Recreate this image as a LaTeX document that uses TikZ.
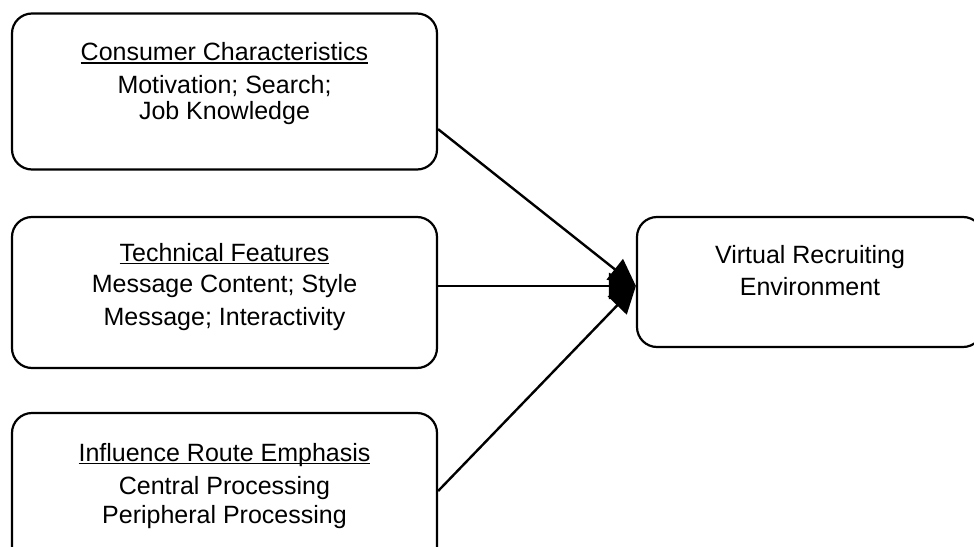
\documentclass[tikz,border=0pt]{standalone}
\usepackage{fontspec}
\setmainfont{Liberation Sans}
\usetikzlibrary{arrows.meta}

% underlined heading, rule kept at a fixed depth
\newcommand{\headline}[1]{\hbox{\setbox0\hbox{#1}\rlap{\rule[-3.2pt]{\wd0}{1.4pt}}\box0}}

\begin{document}
\begin{tikzpicture}[x=1pt,y=-1pt,
    box/.style={draw, line width=2.2pt, rounded corners=20pt, inner sep=0pt,
        align=center, font=\fontsize{25}{26}\selectfont},
    link/.style={line width=2.4pt, -{Triangle[length=27pt,width=26pt]}}]

\useasboundingbox (0,0) rectangle (974,546);

% Left column
\node[box, minimum width=425pt, text height=106pt, text depth=50pt] (cc) at (224.5,91.5)
    {\headline{Consumer Characteristics}\\[7pt] Motivation; Search;\\ Job Knowledge};
\node[box, minimum width=425pt, text height=108pt, text depth=43pt] (tf) at (224.5,292.5)
    {\headline{Technical Features}\\[5pt] Message Content; Style\\[7pt] Message; Interactivity};
\node[box, minimum width=425pt, text height=110pt, text depth=46pt] (ir) at (224.5,491)
    {\headline{Influence Route Emphasis}\\[7pt] Central Processing\\[3pt] Peripheral Processing};

% Outcome
\node[box, minimum width=346pt, text height=78pt, text depth=52pt] (vre) at (810,282)
    {Virtual Recruiting\\[6pt] Environment};

% Links
\coordinate (tip) at ([yshift=-4pt]vre.west);
\draw[link] (cc.-10.5) -- (tip);
\draw[link] (tf.east |- tip) -- (tip);
\draw[link] (ir.east) -- (tip);

\end{tikzpicture}
\end{document}
